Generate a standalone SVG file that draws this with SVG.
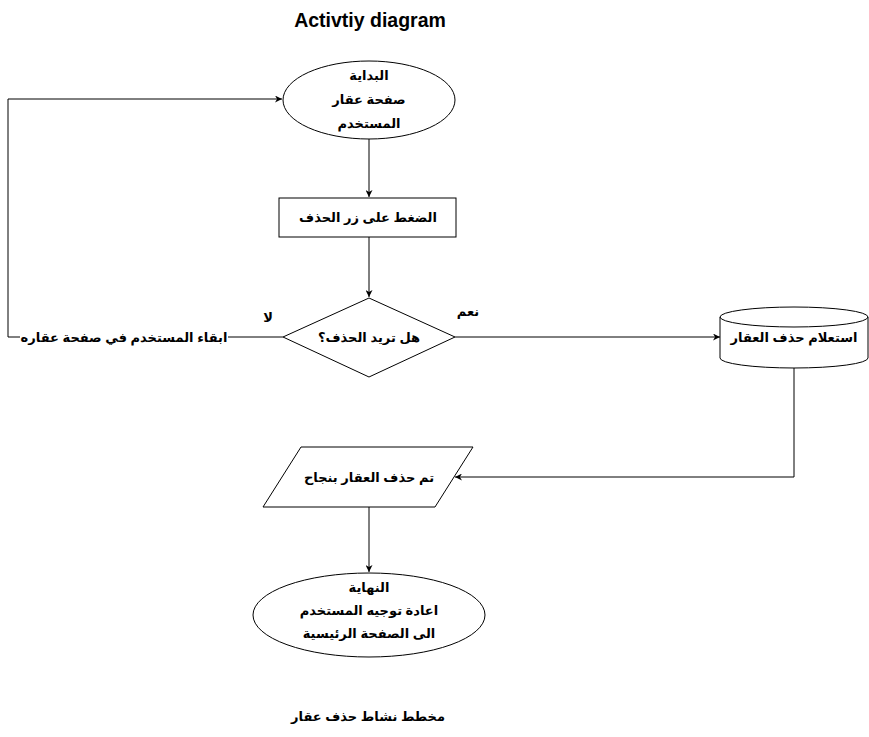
<svg xmlns="http://www.w3.org/2000/svg" width="869" height="737" viewBox="0 0 869 737">
<style>
.s{fill:#fff;stroke:#000;stroke-width:1}
.e{fill:none;stroke:#000;stroke-width:1}
text{font-family:"Liberation Sans","DejaVu Sans",Arial,sans-serif;font-weight:bold;font-size:13px;fill:#000;text-anchor:middle}
.t{font-size:19.5px}
</style>
<defs>
<marker id="a" viewBox="0 0 10 10" refX="10" refY="5" markerWidth="7" markerHeight="7" orient="auto" markerUnits="userSpaceOnUse">
<path d="M0,0 L10,5 L0,10 L3,5 Z" fill="#000"/>
</marker>
</defs>
<rect width="869" height="737" fill="#fff"/>
<text class="t" x="370" y="27">Activtiy diagram</text>
<g id="connectors">
<path class="e" d="M369,139 L369,197" marker-end="url(#a)"/>
<path class="e" d="M369,237 L369,297" marker-end="url(#a)"/>
<path class="e" d="M283,337 L8,337 L8,99 L282,99" marker-end="url(#a)"/>
<path class="e" d="M455,337 L720,337" marker-end="url(#a)"/>
<path class="e" d="M794,368 L794,477 L455,477" marker-end="url(#a)"/>
<path class="e" d="M369,507 L369,572" marker-end="url(#a)"/>
<rect x="20" y="328" width="208" height="17" fill="#fff"/>
<text x="124" y="342">ابقاء المستخدم في صفحة عقاره</text>
<text x="268" y="322">لا</text>
<text x="468" y="316">نعم</text>
</g>
<g id="start">
<ellipse class="s" cx="369" cy="100" rx="86" ry="39"/>
<text x="369" y="80">البداية</text>
<text x="369" y="104">صفحة عقار</text>
<text x="369" y="128">المستخدم</text>
</g>
<g id="press">
<rect class="s" x="279" y="198" width="177" height="39"/>
<text x="368" y="222">الضغط على زر الحذف</text>
</g>
<g id="decision">
<path class="s" d="M369,298 L455,337 L369,377 L283,337 Z"/>
<text x="369" y="342">هل تريد الحذف؟</text>
</g>
<g id="query">
<path class="s" d="M720,317 A74,10 0 0 1 868,317 L868,358 A74,10 0 0 1 720,358 Z"/>
<path class="e" d="M720,317 A74,10 0 0 0 868,317"/>
<text x="794" y="342">استعلام حذف العقار</text>
</g>
<g id="success">
<path class="s" d="M301,447 L473,447 L435,507 L263,507 Z"/>
<text x="369" y="482">تم حذف العقار بنجاح</text>
</g>
<g id="end">
<ellipse class="s" cx="369" cy="615" rx="116" ry="42"/>
<text x="369" y="592">النهاية</text>
<text x="369" y="615">اعادة توجيه المستخدم</text>
<text x="369" y="638">الى الصفحة الرئيسية</text>
</g>
<text x="368" y="721">مخطط نشاط حذف عقار</text>
</svg>
